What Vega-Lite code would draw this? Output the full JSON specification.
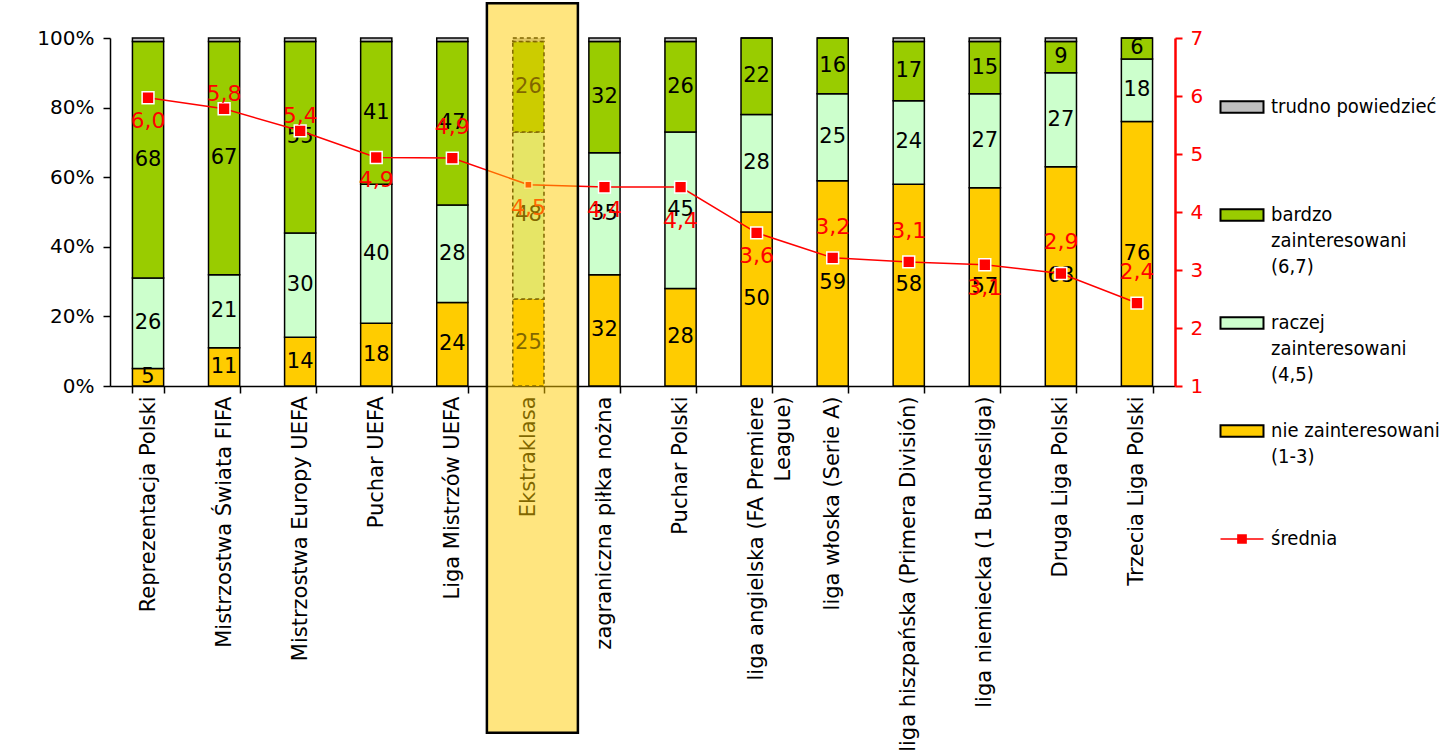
{
  "$schema": "https://vega.github.io/schema/vega-lite/v6.json",
  "width": 1065,
  "height": 348,
  "autosize": {"type": "none"},
  "padding": {"left": 110, "top": 38, "right": 268, "bottom": 364},
  "background": "white",
  "config": {
    "view": {"stroke": null},
    "font": "DejaVu Sans",
    "locale": {"number": {"decimal": ",", "thousands": " ", "grouping": [3], "currency": ["", " zł"]}},
    "axis": {"labelFont": "DejaVu Sans", "labelFontSize": 20, "grid": false}
  },
  "datasets": {
    "slupki": [
      {"kat": "Reprezentacja Polski", "grupa": "nie", "wartosc": 5},
      {"kat": "Reprezentacja Polski", "grupa": "raczej", "wartosc": 26},
      {"kat": "Reprezentacja Polski", "grupa": "bardzo", "wartosc": 68},
      {"kat": "Reprezentacja Polski", "grupa": "trudno", "wartosc": 1},
      {"kat": "Mistrzostwa Świata FIFA", "grupa": "nie", "wartosc": 11},
      {"kat": "Mistrzostwa Świata FIFA", "grupa": "raczej", "wartosc": 21},
      {"kat": "Mistrzostwa Świata FIFA", "grupa": "bardzo", "wartosc": 67},
      {"kat": "Mistrzostwa Świata FIFA", "grupa": "trudno", "wartosc": 1},
      {"kat": "Mistrzostwa Europy UEFA", "grupa": "nie", "wartosc": 14},
      {"kat": "Mistrzostwa Europy UEFA", "grupa": "raczej", "wartosc": 30},
      {"kat": "Mistrzostwa Europy UEFA", "grupa": "bardzo", "wartosc": 55},
      {"kat": "Mistrzostwa Europy UEFA", "grupa": "trudno", "wartosc": 1},
      {"kat": "Puchar UEFA", "grupa": "nie", "wartosc": 18},
      {"kat": "Puchar UEFA", "grupa": "raczej", "wartosc": 40},
      {"kat": "Puchar UEFA", "grupa": "bardzo", "wartosc": 41},
      {"kat": "Puchar UEFA", "grupa": "trudno", "wartosc": 1},
      {"kat": "Liga Mistrzów UEFA", "grupa": "nie", "wartosc": 24},
      {"kat": "Liga Mistrzów UEFA", "grupa": "raczej", "wartosc": 28},
      {"kat": "Liga Mistrzów UEFA", "grupa": "bardzo", "wartosc": 47},
      {"kat": "Liga Mistrzów UEFA", "grupa": "trudno", "wartosc": 1},
      {"kat": "Ekstraklasa", "grupa": "nie", "wartosc": 25},
      {"kat": "Ekstraklasa", "grupa": "raczej", "wartosc": 48},
      {"kat": "Ekstraklasa", "grupa": "bardzo", "wartosc": 26},
      {"kat": "Ekstraklasa", "grupa": "trudno", "wartosc": 1},
      {"kat": "zagraniczna piłka nożna", "grupa": "nie", "wartosc": 32},
      {"kat": "zagraniczna piłka nożna", "grupa": "raczej", "wartosc": 35},
      {"kat": "zagraniczna piłka nożna", "grupa": "bardzo", "wartosc": 32},
      {"kat": "zagraniczna piłka nożna", "grupa": "trudno", "wartosc": 1},
      {"kat": "Puchar Polski", "grupa": "nie", "wartosc": 28},
      {"kat": "Puchar Polski", "grupa": "raczej", "wartosc": 45},
      {"kat": "Puchar Polski", "grupa": "bardzo", "wartosc": 26},
      {"kat": "Puchar Polski", "grupa": "trudno", "wartosc": 1},
      {"kat": "liga angielska (FA Premiere League)", "grupa": "nie", "wartosc": 50},
      {"kat": "liga angielska (FA Premiere League)", "grupa": "raczej", "wartosc": 28},
      {"kat": "liga angielska (FA Premiere League)", "grupa": "bardzo", "wartosc": 22},
      {"kat": "liga angielska (FA Premiere League)", "grupa": "trudno", "wartosc": 0},
      {"kat": "liga włoska (Serie A)", "grupa": "nie", "wartosc": 59},
      {"kat": "liga włoska (Serie A)", "grupa": "raczej", "wartosc": 25},
      {"kat": "liga włoska (Serie A)", "grupa": "bardzo", "wartosc": 16},
      {"kat": "liga włoska (Serie A)", "grupa": "trudno", "wartosc": 0},
      {"kat": "liga hiszpańska (Primera División)", "grupa": "nie", "wartosc": 58},
      {"kat": "liga hiszpańska (Primera División)", "grupa": "raczej", "wartosc": 24},
      {"kat": "liga hiszpańska (Primera División)", "grupa": "bardzo", "wartosc": 17},
      {"kat": "liga hiszpańska (Primera División)", "grupa": "trudno", "wartosc": 1},
      {"kat": "liga niemiecka (1 Bundesliga)", "grupa": "nie", "wartosc": 57},
      {"kat": "liga niemiecka (1 Bundesliga)", "grupa": "raczej", "wartosc": 27},
      {"kat": "liga niemiecka (1 Bundesliga)", "grupa": "bardzo", "wartosc": 15},
      {"kat": "liga niemiecka (1 Bundesliga)", "grupa": "trudno", "wartosc": 1},
      {"kat": "Druga Liga Polski", "grupa": "nie", "wartosc": 63},
      {"kat": "Druga Liga Polski", "grupa": "raczej", "wartosc": 27},
      {"kat": "Druga Liga Polski", "grupa": "bardzo", "wartosc": 9},
      {"kat": "Druga Liga Polski", "grupa": "trudno", "wartosc": 1},
      {"kat": "Trzecia Liga Polski", "grupa": "nie", "wartosc": 76},
      {"kat": "Trzecia Liga Polski", "grupa": "raczej", "wartosc": 18},
      {"kat": "Trzecia Liga Polski", "grupa": "bardzo", "wartosc": 6},
      {"kat": "Trzecia Liga Polski", "grupa": "trudno", "wartosc": 0}
    ],
    "srednie": [
      {"kat": "Reprezentacja Polski", "srednia": 5.97},
      {"kat": "Mistrzostwa Świata FIFA", "srednia": 5.78},
      {"kat": "Mistrzostwa Europy UEFA", "srednia": 5.4},
      {"kat": "Puchar UEFA", "srednia": 4.94},
      {"kat": "Liga Mistrzów UEFA", "srednia": 4.93},
      {"kat": "Ekstraklasa", "srednia": 4.47},
      {"kat": "zagraniczna piłka nożna", "srednia": 4.43},
      {"kat": "Puchar Polski", "srednia": 4.43},
      {"kat": "liga angielska (FA Premiere League)", "srednia": 3.64},
      {"kat": "liga włoska (Serie A)", "srednia": 3.21},
      {"kat": "liga hiszpańska (Primera División)", "srednia": 3.14},
      {"kat": "liga niemiecka (1 Bundesliga)", "srednia": 3.09},
      {"kat": "Druga Liga Polski", "srednia": 2.94},
      {"kat": "Trzecia Liga Polski", "srednia": 2.43}
    ]
  },
  "encoding": {
    "x": {
      "field": "kat",
      "type": "nominal",
      "title": null,
      "scale": {
        "domain": ["Reprezentacja Polski", "Mistrzostwa Świata FIFA", "Mistrzostwa Europy UEFA", "Puchar UEFA", "Liga Mistrzów UEFA", "Ekstraklasa", "zagraniczna piłka nożna", "Puchar Polski", "liga angielska (FA Premiere League)", "liga włoska (Serie A)", "liga hiszpańska (Primera División)", "liga niemiecka (1 Bundesliga)", "Druga Liga Polski", "Trzecia Liga Polski"],
        "paddingInner": 0.59,
        "paddingOuter": 0.295
      },
      "axis": {
        "orient": "bottom",
        "tickBand": "extent",
        "tickSize": 7,
        "tickColor": "black",
        "tickWidth": 1.5,
        "domainColor": "black",
        "domainWidth": 1.5,
        "labelAngle": -90,
        "labelPadding": 3,
        "labelLimit": 500,
        "labelFontSize": 21,
        "labelColor": "black",
        "labelLineHeight": 27,
        "labelOverlap": false,
        "labelExpr": "datum.label === 'liga angielska (FA Premiere League)' ? ['liga angielska (FA Premiere', 'League)'] : datum.label"
      }
    }
  },
  "layer": [
    {
      "data": {"name": "slupki"},
      "transform": [
        {"calculate": "indexof(['nie','raczej','bardzo','trudno'], datum.grupa)", "as": "kolejnosc"}
      ],
      "layer": [
        {
          "mark": {"type": "bar", "stroke": "black", "strokeWidth": 1.5},
          "encoding": {
            "y": {
              "field": "wartosc",
              "type": "quantitative",
              "stack": "zero",
              "title": null,
              "scale": {"domain": [0, 100], "nice": false},
              "axis": {
                "values": [0, 20, 40, 60, 80, 100],
                "labelExpr": "datum.value + '%'",
                "tickSize": 7,
                "tickColor": "black",
                "tickWidth": 1.5,
                "domainColor": "black",
                "domainWidth": 1.5,
                "labelPadding": 9,
                "labelColor": "black",
                "labelFontSize": 20
              }
            },
            "fill": {
              "field": "grupa",
              "type": "nominal",
              "scale": {
                "domain": ["trudno", "bardzo", "raczej", "nie", "srednia"],
                "range": ["#C0C0C0", "#99CC00", "#CCFFCC", "#FFCC00", "#FF0000"]
              },
              "legend": {
                "title": null,
                "orient": "none",
                "legendX": 1122,
                "legendY": 59,
                "padding": 0,
                "symbolType": "M-1,-0.27H1V0.27H-1Z",
                "symbolSize": 1849,
                "symbolStrokeWidth": 2,
                "symbolStrokeColor": "black",
                "labelFont": "DejaVu Sans Condensed",
                "labelFontSize": 20,
                "labelBaseline": "top",
                "labelOffset": 19,
                "labelLimit": 300,
                "labelColor": "black",
                "rowPadding": 36,
                "labelExpr": "datum.value === 'trudno' ? ['trudno powiedzieć', '', ''] : datum.value === 'bardzo' ? ['bardzo', 'zainteresowani', '(6,7)'] : datum.value === 'raczej' ? ['raczej', 'zainteresowani', '(4,5)'] : datum.value === 'nie' ? ['nie zainteresowani', '(1-3)', ''] : ['średnia', '', '']",
                "encode": {
                  "labels": {
                    "update": {"lineHeight": {"value": 26}, "dy": {"value": -10}}
                  },
                  "symbols": {
                    "update": {
                      "shape": {"signal": "datum.value === 'srednia' ? 'M-1,0H-0.2M0.2,0H1M-0.19,-0.19H0.19V0.19H-0.19Z' : 'M-1,-0.27H1V0.27H-1Z'"},
                      "stroke": {"signal": "datum.value === 'srednia' ? '#FF0000' : 'black'"},
                      "strokeWidth": {"signal": "datum.value === 'srednia' ? 1.5 : 2"}
                    }
                  }
                }
              }
            },
            "order": {"field": "kolejnosc", "type": "quantitative"},
            "strokeDash": {"condition": {"test": "datum.kat === 'Ekstraklasa'", "value": [4, 3]}, "value": [1, 0]}
          }
        },
        {
          "transform": [
            {"stack": "wartosc", "groupby": ["kat"], "sort": [{"field": "kolejnosc", "order": "ascending"}], "as": ["y0", "y1"]},
            {"filter": "datum.grupa !== 'trudno'"},
            {"calculate": "(datum.y0 + datum.y1) / 2", "as": "ysrodek"}
          ],
          "mark": {"type": "text", "fontSize": 21, "font": "DejaVu Sans", "color": "black", "baseline": "middle"},
          "encoding": {
            "y": {"field": "ysrodek", "type": "quantitative", "title": null},
            "text": {"field": "wartosc", "type": "quantitative"}
          }
        }
      ]
    },
    {
      "data": {"name": "srednie"},
      "layer": [
        {
          "mark": {"type": "line", "color": "#FF0000", "strokeWidth": 1.5},
          "encoding": {
            "y": {
              "field": "srednia",
              "type": "quantitative",
              "title": null,
              "scale": {"domain": [1, 7], "nice": false},
              "axis": {
                "orient": "right",
                "values": [1, 2, 3, 4, 5, 6, 7],
                "format": "d",
                "tickSize": 7,
                "tickColor": "#FF0000",
                "tickWidth": 2,
                "domainColor": "#FF0000",
                "domainWidth": 2.5,
                "labelColor": "#FF0000",
                "labelPadding": 8,
                "labelFontSize": 20
              }
            }
          }
        },
        {
          "mark": {"type": "point", "shape": "square", "filled": true, "fill": "#FF0000", "stroke": "white", "strokeWidth": 1.5, "opacity": 1},
          "encoding": {
            "y": {"field": "srednia", "type": "quantitative", "title": null, "scale": {"domain": [1, 7], "nice": false}},
            "size": {"condition": {"test": "datum.kat === 'Ekstraklasa'", "value": 50}, "value": 140}
          }
        },
        {
          "transform": [{"filter": {"field": "kat", "oneOf": ["Reprezentacja Polski", "Puchar UEFA", "Ekstraklasa", "zagraniczna piłka nożna", "liga angielska (FA Premiere League)", "liga niemiecka (1 Bundesliga)"]}}],
          "mark": {"type": "text", "fontSize": 22, "color": "#FF0000", "dy": 23},
          "encoding": {
            "y": {"field": "srednia", "type": "quantitative", "title": null, "scale": {"domain": [1, 7], "nice": false}},
            "text": {"field": "srednia", "type": "quantitative", "format": ".1f"}
          }
        },
        {
          "transform": [{"filter": {"field": "kat", "oneOf": ["Puchar Polski"]}}],
          "mark": {"type": "text", "fontSize": 22, "color": "#FF0000", "dy": 34},
          "encoding": {
            "y": {"field": "srednia", "type": "quantitative", "title": null, "scale": {"domain": [1, 7], "nice": false}},
            "text": {"field": "srednia", "type": "quantitative", "format": ".1f"}
          }
        },
        {
          "transform": [{"filter": {"field": "kat", "oneOf": ["Mistrzostwa Świata FIFA", "Mistrzostwa Europy UEFA"]}}],
          "mark": {"type": "text", "fontSize": 22, "color": "#FF0000", "dy": -15},
          "encoding": {
            "y": {"field": "srednia", "type": "quantitative", "title": null, "scale": {"domain": [1, 7], "nice": false}},
            "text": {"field": "srednia", "type": "quantitative", "format": ".1f"}
          }
        },
        {
          "transform": [{"filter": {"field": "kat", "oneOf": ["Liga Mistrzów UEFA", "liga włoska (Serie A)", "liga hiszpańska (Primera División)", "Druga Liga Polski", "Trzecia Liga Polski"]}}],
          "mark": {"type": "text", "fontSize": 22, "color": "#FF0000", "dy": -31},
          "encoding": {
            "y": {"field": "srednia", "type": "quantitative", "title": null, "scale": {"domain": [1, 7], "nice": false}},
            "text": {"field": "srednia", "type": "quantitative", "format": ".1f"}
          }
        },
        {
          "transform": [{"filter": "datum.kat === 'Ekstraklasa'"}],
          "mark": {"type": "bar", "width": 91, "xOffset": 4, "fill": "#FFCC00", "fillOpacity": 0.5, "stroke": "black", "strokeWidth": 2.5},
          "encoding": {
            "y": {"datum": 7.6, "type": "quantitative", "title": null, "scale": {"domain": [1, 7], "nice": false}},
            "y2": {"datum": -4.98}
          }
        }
      ]
    }
  ],
  "resolve": {"scale": {"y": "independent"}}
}
